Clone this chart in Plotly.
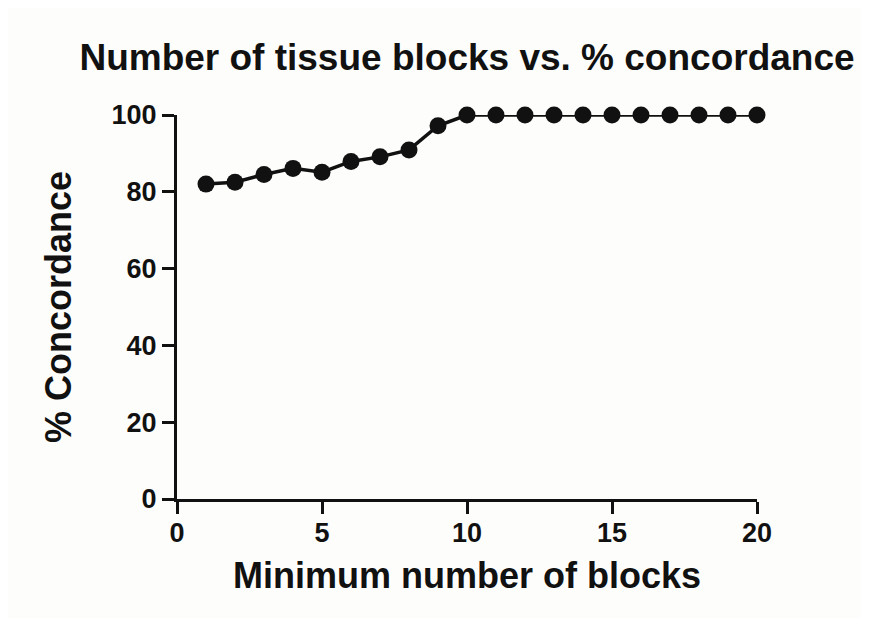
import plotly.graph_objects as go

blocks = list(range(1, 21))
concordance = [82, 82.5, 84.5, 86.1, 85.1, 87.9, 89.1, 90.9, 97.2, 100,
               100, 100, 100, 100, 100, 100, 100, 100, 100, 100]
x_ticks = [0, 5, 10, 15, 20]
y_ticks = [0, 20, 40, 60, 80, 100]

FONT = "Liberation Sans, Arial, sans-serif"

fig = go.Figure()
fig.add_trace(go.Scatter(
    x=blocks, y=concordance, mode="lines+markers",
    line=dict(color="#111111", width=3.5),
    marker=dict(color="#111111", size=17),
    cliponaxis=False, showlegend=False,
))

fig.update_layout(
    width=869, height=618,
    paper_bgcolor="#fdfdfb", plot_bgcolor="#fdfdfb",
    margin=dict(l=169, r=120, t=107, b=127),
    title=dict(text="Number of tissue blocks vs. % concordance",
               x=0.5, xref="paper", xanchor="center",
               y=1 - 49 / 618, yref="container", yanchor="middle",
               font=dict(family=FONT, size=37, color="#111111", weight="bold")),
    font=dict(family=FONT, color="#111111"),
)

fig.update_xaxes(
    range=[0, 20], tickvals=x_ticks, showgrid=False, zeroline=False,
    showline=True, linecolor="#111111", linewidth=3,
    ticks="outside", ticklen=12, tickwidth=3, tickcolor="#111111",
    ticklabelstandoff=-4,
    tickfont=dict(family=FONT, size=27, color="#111111", weight="bold"),
    title=dict(text="Minimum number of blocks", standoff=16,
               font=dict(family=FONT, size=36, color="#111111", weight="bold")),
)
fig.update_yaxes(
    range=[0, 100], tickvals=y_ticks, showgrid=False, zeroline=False,
    showline=True, linecolor="#111111", linewidth=3,
    ticks="outside", ticklen=12, tickwidth=3, tickcolor="#111111",
    tickfont=dict(family=FONT, size=27, color="#111111", weight="bold"),
    title=dict(text="% Concordance", standoff=29,
               font=dict(family=FONT, size=36, color="#111111", weight="bold")),
)

fig.write_html("out.html")
